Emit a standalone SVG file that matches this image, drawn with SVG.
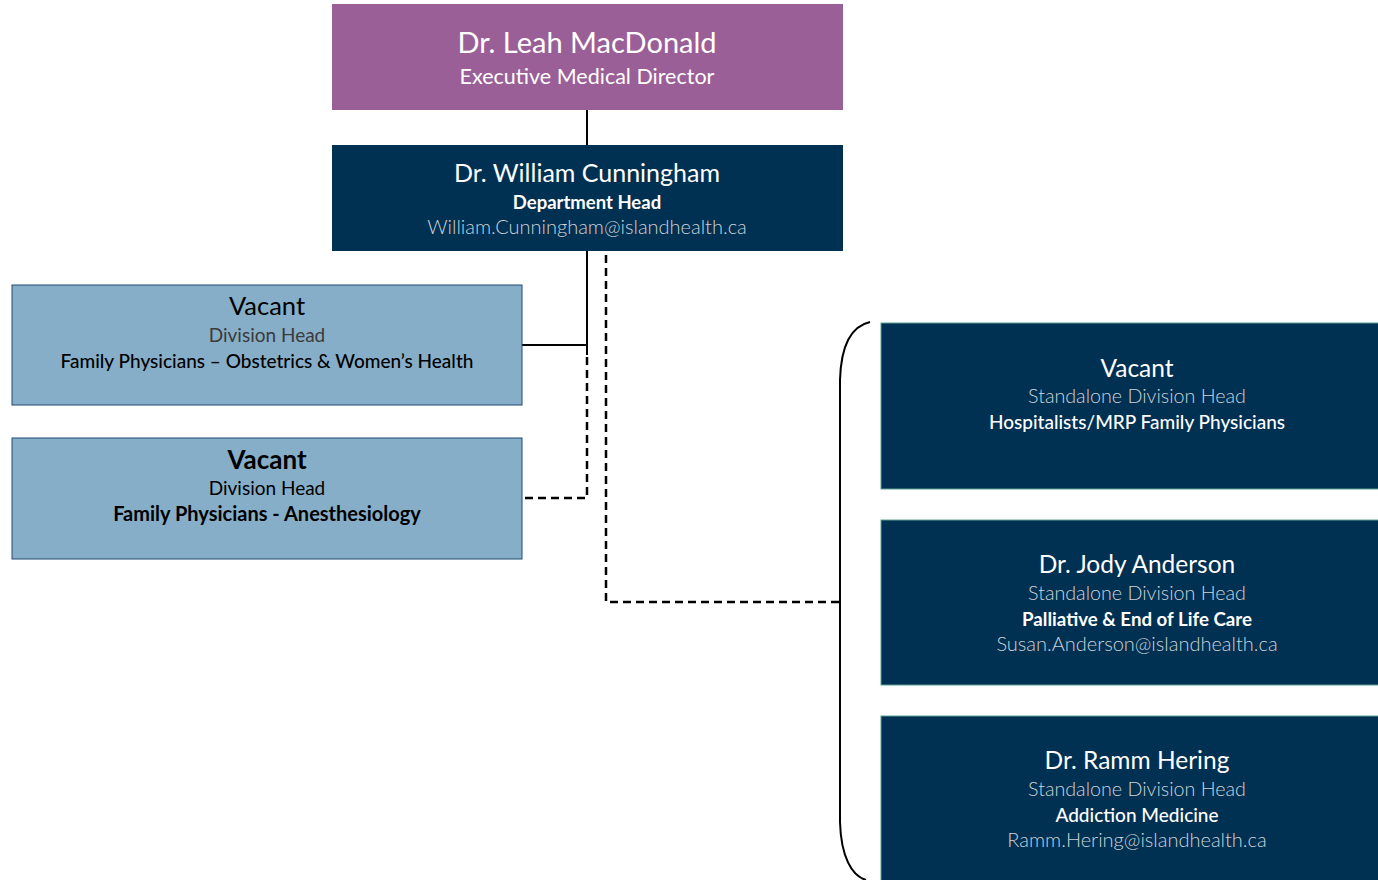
<svg xmlns="http://www.w3.org/2000/svg" width="1378" height="880" viewBox="0 0 1378 880">
<style>
text{font-family:Lato,"Open Sans","Liberation Sans",sans-serif;text-anchor:middle}
.w{fill:#ffffff}
.lt{fill:#cdd3da;font-weight:300}
.k{fill:#000000}
.g{fill:#3a3a3a}
.t{font-size:24.5px}
.s{font-size:19px}
.b{font-weight:bold}
.m{font-weight:500}
.navy{fill:#003052}
.side{fill:#003052;stroke:#5b9f92;stroke-width:1}
.blue{fill:#87aec8;stroke:#1f4a74;stroke-width:1}
.ln{fill:none;stroke:#000;stroke-width:2}
.dash{fill:none;stroke:#000;stroke-width:2.5;stroke-dasharray:8 5}
</style>
<rect width="1378" height="880" fill="#ffffff"/>
<g id="connectors">
<line class="ln" x1="587" y1="110" x2="587" y2="145"/>
<polyline class="ln" points="587,251 587,345 522,345"/>
<line class="ln" x1="587" y1="345" x2="587" y2="355"/>
<polyline class="dash" points="587,357 587,498 522,498"/>
<polyline class="dash" points="606,255 606,602 840,602"/>
<path class="ln" d="M870,322 C852,326 841,345 840,380 L840,822 C841,857 852,876 866,880"/>
</g>
<g id="n-leah">
<rect x="332" y="4" width="511" height="106" fill="#9b5f98"/>
<text class="w" x="587" y="53" font-size="29">Dr. Leah MacDonald</text>
<text class="w" x="587" y="84" font-size="21.5">Executive Medical Director</text>
</g>
<g id="n-william">
<rect class="navy" x="332" y="145" width="511" height="106"/>
<text class="w" x="587" y="182" font-size="25">Dr. William Cunningham</text>
<text class="w b" x="587" y="209" font-size="18.5">Department Head</text>
<text class="lt" x="587" y="234" font-size="20">William.Cunningham@islandhealth.ca</text>
</g>
<g id="n-obstetrics">
<rect class="blue" x="12" y="285" width="510" height="120"/>
<text class="k" x="267" y="315" font-size="25.5">Vacant</text>
<text class="g" x="267" y="342" font-size="19">Division Head</text>
<text class="k m" x="267" y="368" font-size="19">Family Physicians – Obstetrics &amp; Women’s Health</text>
</g>
<g id="n-anesthesiology">
<rect class="blue" x="12" y="438" width="510" height="121"/>
<text class="k b" x="267" y="469" font-size="26">Vacant</text>
<text class="k" x="267" y="495" font-size="19">Division Head</text>
<text class="k b" x="267" y="521" font-size="20">Family Physicians - Anesthesiology</text>
</g>
<g id="n-hospitalists">
<rect class="side" x="881" y="323" width="500" height="166"/>
<text class="w t" x="1137" y="377">Vacant</text>
<text class="lt" x="1137" y="403" font-size="19.7">Standalone Division Head</text>
<text class="w s m" x="1137" y="429">Hospitalists/MRP Family Physicians</text>
</g>
<g id="n-anderson">
<rect class="side" x="881" y="520" width="500" height="165"/>
<text class="w t" x="1137" y="573">Dr. Jody Anderson</text>
<text class="lt" x="1137" y="600" font-size="19.7">Standalone Division Head</text>
<text class="w b" x="1137" y="626" font-size="18.7">Palliative &amp; End of Life Care</text>
<text class="lt" x="1137" y="651" font-size="20">Susan.Anderson@islandhealth.ca</text>
</g>
<g id="n-hering">
<rect class="side" x="881" y="716" width="500" height="170"/>
<text class="w t" x="1137" y="769">Dr. Ramm Hering</text>
<text class="lt" x="1137" y="796" font-size="19.7">Standalone Division Head</text>
<text class="w s m" x="1137" y="822">Addiction Medicine</text>
<text class="lt" x="1137" y="847" font-size="20">Ramm.Hering@islandhealth.ca</text>
</g>
</svg>
